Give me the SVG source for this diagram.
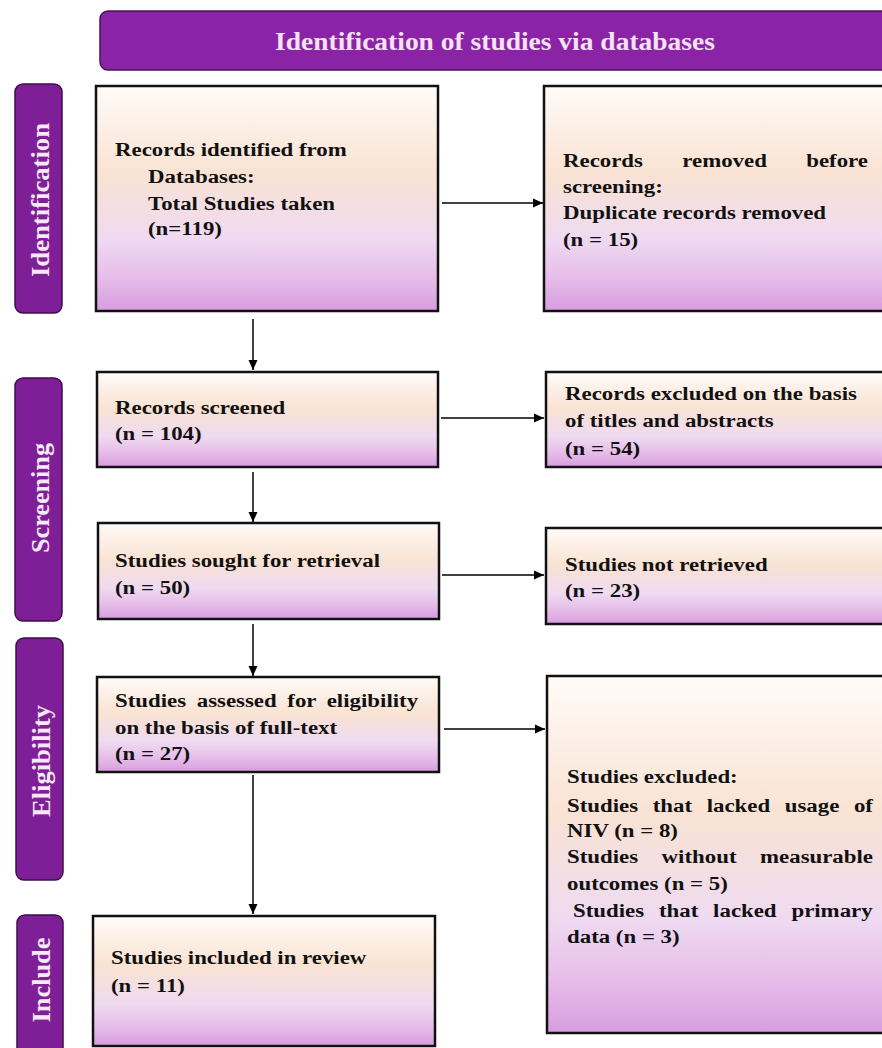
<svg xmlns="http://www.w3.org/2000/svg" width="882" height="1048" viewBox="0 0 882 1048">
<defs>
<linearGradient id="boxg" x1="0" y1="0" x2="0" y2="1">
<stop offset="0" stop-color="#fffbf8"/>
<stop offset="0.38" stop-color="#f9e3d3"/>
<stop offset="0.68" stop-color="#efdaf1"/>
<stop offset="0.85" stop-color="#e6bde9"/>
<stop offset="1" stop-color="#d89ddf"/>
</linearGradient>
<marker id="ah" viewBox="0 0 10 10" refX="10" refY="5" markerWidth="10" markerHeight="10" markerUnits="userSpaceOnUse" orient="auto">
<path d="M0,0.5 L10,5 L0,9.5 Z" fill="#000"/>
</marker>
<style>
.box{fill:url(#boxg);stroke:#111;stroke-width:2.5}
.side{fill:#7f1f98;stroke:#3e0e4c;stroke-width:1.5}
.hdr{fill:#8a23a6;stroke:#4a1258;stroke-width:1.5}
.t{font-family:"Liberation Serif","Times New Roman",serif;font-weight:bold;font-size:19.5px;fill:#111}
.st{font-family:"Liberation Serif","Times New Roman",serif;font-weight:bold;font-size:25px;fill:#f6e8f4;text-anchor:middle}
.ht{font-family:"Liberation Serif","Times New Roman",serif;font-weight:bold;font-size:25px;fill:#f6e2f2;text-anchor:middle}
.con{stroke:#000;stroke-width:1.5;fill:none;marker-end:url(#ah)}
</style>
</defs>
<rect width="882" height="1048" fill="#fff"/>

<g id="header">
<rect class="hdr" x="100" y="11" width="800" height="59" rx="8"/>
<g transform="translate(495,0) scale(1.1,1)"><text class="ht" x="0" y="50">Identification of studies via databases</text></g>
</g>

<g id="label-identification">
<rect class="side" x="15" y="84" width="47" height="229" rx="8"/>
<text class="st" transform="translate(49,200) rotate(-90)" textLength="154" lengthAdjust="spacingAndGlyphs">Identification</text>
</g>
<g id="label-screening">
<rect class="side" x="15" y="378" width="47" height="243" rx="8"/>
<text class="st" transform="translate(49,498) rotate(-90)" textLength="110" lengthAdjust="spacingAndGlyphs">Screening</text>
</g>
<g id="label-eligibility">
<rect class="side" x="16" y="638" width="47" height="242" rx="8"/>
<text class="st" transform="translate(50,761) rotate(-90)" textLength="112" lengthAdjust="spacingAndGlyphs">Eligibility</text>
</g>
<g id="label-include">
<rect class="side" x="17" y="915" width="46" height="150" rx="8"/>
<text class="st" transform="translate(50,980) rotate(-90)" textLength="85" lengthAdjust="spacingAndGlyphs">Include</text>
</g>

<g id="records-identified">
<rect class="box" x="96" y="86" width="342" height="225"/>
<g transform="translate(115,0) scale(1.172,1)"><text class="t" x="0" y="156">Records identified from</text></g>
<g transform="translate(148,0) scale(1.172,1)"><text class="t"><tspan x="0" y="183">Databases:</tspan><tspan x="0" y="210">Total Studies taken</tspan><tspan x="0" y="235">(n=119)</tspan></text></g>
</g>

<g id="records-removed">
<rect class="box" x="544" y="86" width="356" height="225"/>
<g transform="translate(563,0) scale(1.172,1)"><text class="t"><tspan x="0" y="167" word-spacing="28.7">Records removed before</tspan><tspan x="0" y="193">screening:</tspan><tspan x="0" y="219.5">Duplicate records removed</tspan><tspan x="0" y="246">(n = 15)</tspan></text></g>
</g>

<g id="records-screened">
<rect class="box" x="97" y="372" width="341" height="95"/>
<g transform="translate(115,0) scale(1.172,1)"><text class="t"><tspan x="0" y="414">Records screened</tspan><tspan x="0" y="440">(n = 104)</tspan></text></g>
</g>

<g id="records-excluded">
<rect class="box" x="546" y="372" width="354" height="95"/>
<g transform="translate(565,0) scale(1.172,1)"><text class="t"><tspan x="0" y="400">Records excluded on the basis</tspan><tspan x="0" y="427.5">of titles and abstracts</tspan><tspan x="0" y="455">(n = 54)</tspan></text></g>
</g>

<g id="sought-retrieval">
<rect class="box" x="98" y="523" width="341" height="96"/>
<g transform="translate(115,0) scale(1.172,1)"><text class="t"><tspan x="0" y="567">Studies sought for retrieval</tspan><tspan x="0" y="594">(n = 50)</tspan></text></g>
</g>

<g id="not-retrieved">
<rect class="box" x="546" y="528" width="354" height="96"/>
<g transform="translate(565,0) scale(1.172,1)"><text class="t"><tspan x="0" y="571">Studies not retrieved</tspan><tspan x="0" y="597">(n = 23)</tspan></text></g>
</g>

<g id="assessed-eligibility">
<rect class="box" x="97" y="677" width="342" height="95"/>
<g transform="translate(115,0) scale(1.172,1)"><text class="t"><tspan x="0" y="707" word-spacing="4.2">Studies assessed for eligibility</tspan><tspan x="0" y="734">on the basis of full-text</tspan><tspan x="0" y="760">(n = 27)</tspan></text></g>
</g>

<g id="studies-excluded">
<rect class="box" x="547" y="676" width="353" height="357"/>
<g transform="translate(567,0) scale(1.172,1)"><text class="t"><tspan x="0" y="783">Studies excluded:</tspan><tspan x="0" y="812" word-spacing="7.6">Studies that lacked usage of</tspan><tspan x="0" y="837">NIV (n = 8)</tspan><tspan x="0" y="863" word-spacing="15.2">Studies without measurable</tspan><tspan x="0" y="890">outcomes (n = 5)</tspan><tspan x="5.1" y="917" word-spacing="7.8">Studies that lacked primary</tspan><tspan x="0" y="943">data (n = 3)</tspan></text></g>
</g>

<g id="studies-included">
<rect class="box" x="93" y="916" width="342" height="130"/>
<g transform="translate(111,0) scale(1.172,1)"><text class="t"><tspan x="0" y="964">Studies included in review</tspan><tspan x="0" y="992">(n = 11)</tspan></text></g>
</g>

<g id="connectors">
<line class="con" x1="442" y1="203" x2="543" y2="203"/>
<line class="con" x1="441" y1="418" x2="544" y2="418"/>
<line class="con" x1="442" y1="575" x2="544" y2="575"/>
<line class="con" x1="444" y1="729" x2="545" y2="729"/>
<line class="con" x1="253" y1="319" x2="253" y2="370"/>
<line class="con" x1="253" y1="472" x2="253" y2="522"/>
<line class="con" x1="253" y1="624" x2="253" y2="676"/>
<line class="con" x1="253" y1="775" x2="253" y2="914"/>
</g>
</svg>
